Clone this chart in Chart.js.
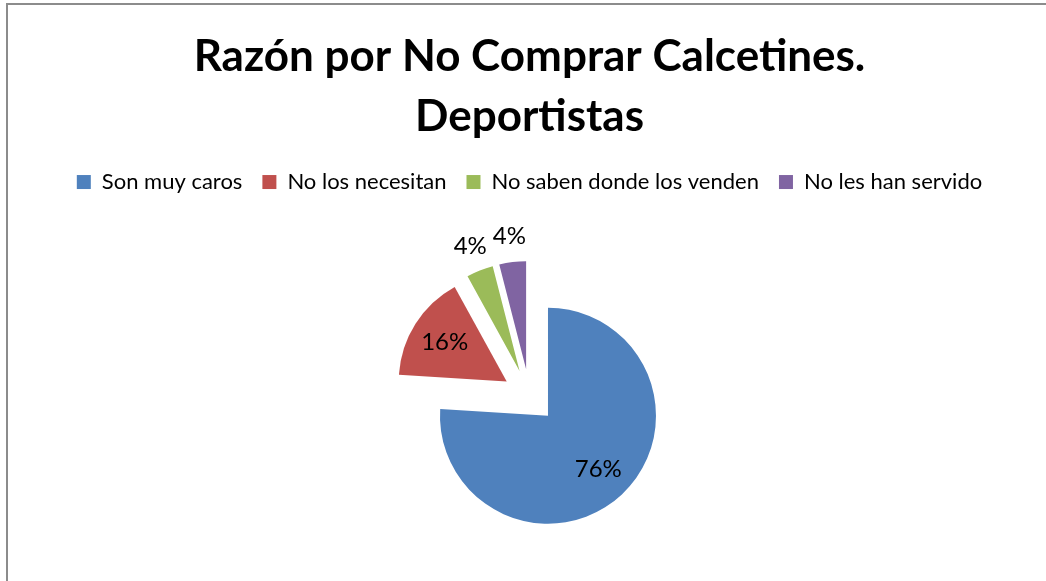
<!DOCTYPE html>
<html>
<head>
<meta charset="utf-8">
<script src="https://cdn.jsdelivr.net/npm/chart.js@4/dist/chart.umd.min.js"></script>
<style>
  html, body { margin: 0; padding: 0; background: #fff; overflow: hidden; }
  #wrap { position: relative; width: 1046px; height: 581px; overflow: hidden; }
  #frame { position: absolute; left: 6px; top: 3px; width: 1200px; height: 800px;
           border-left: 2px solid #8c8c8c; border-top: 2px solid #8c8c8c; }
  canvas { position: absolute; left: 0; top: 0; }
</style>
</head>
<body>
<div id="wrap">
  <div id="frame"></div>
  <canvas id="chart" width="1046" height="589"></canvas>
</div>
<script>
const titleLines = ['Razón por No Comprar Calcetines.', 'Deportistas'];
const categories = ['Son muy caros', 'No los necesitan', 'No saben donde los venden', 'No les han servido'];
const shares = [76, 16, 4, 4];
const sliceColors = ['#4F81BD', '#C0504D', '#9BBB59', '#8064A2'];

const EXPLODE = 27;

// push every slice out along its own mid angle (Excel style exploded pie)
const explodePlugin = {
  id: 'explode',
  afterDatasetUpdate(chart, args) {
    const meta = chart.getDatasetMeta(args.index);
    meta.data.forEach(arc => {
      const mid = (arc.startAngle + arc.endAngle) / 2;
      arc.x += Math.cos(mid) * EXPLODE;
      arc.y += Math.sin(mid) * EXPLODE;
    });
  }
};

// percentage labels: inside for big slices, outside for small ones
const pctLabels = {
  id: 'pctLabels',
  afterDatasetsDraw(chart) {
    const ctx = chart.ctx;
    const meta = chart.getDatasetMeta(0);
    const data = chart.data.datasets[0].data;
    const total = data.reduce((a, b) => a + b, 0);
    ctx.save();
    ctx.font = '24px Lato';
    ctx.fillStyle = '#000';
    ctx.textAlign = 'center';
    ctx.textBaseline = 'middle';
    meta.data.forEach((arc, i) => {
      const pct = data[i] / total;
      const mid = (arc.startAngle + arc.endAngle) / 2;
      const k = pct < 0.1 ? 1.24 : 0.68;
      const r = arc.outerRadius * k;
      ctx.fillText(Math.round(pct * 100) + '%', arc.x + Math.cos(mid) * r, arc.y + Math.sin(mid) * r);
    });
    ctx.restore();
  }
};

new Chart(document.getElementById('chart'), {
  type: 'pie',
  data: {
    labels: categories,
    datasets: [{
      data: shares,
      backgroundColor: sliceColors,
      borderWidth: 0
    }]
  },
  options: {
    responsive: false,
    animation: false,
    radius: 108,
    layout: { padding: { left: 13, right: 0, top: 0, bottom: 0 } },
    plugins: {
      title: {
        display: true,
        text: titleLines,
        color: '#000',
        font: { family: 'Lato', size: 44, weight: 'bold', lineHeight: 1.364 },
        padding: { top: 27, bottom: 4 }
      },
      legend: {
        position: 'top',
        labels: {
          color: '#000',
          font: { family: 'Lato', size: 22 },
          boxWidth: 14,
          boxHeight: 14,
          padding: 20
        }
      },
      tooltip: { enabled: false }
    }
  },
  plugins: [explodePlugin, pctLabels]
});
</script>
</body>
</html>
